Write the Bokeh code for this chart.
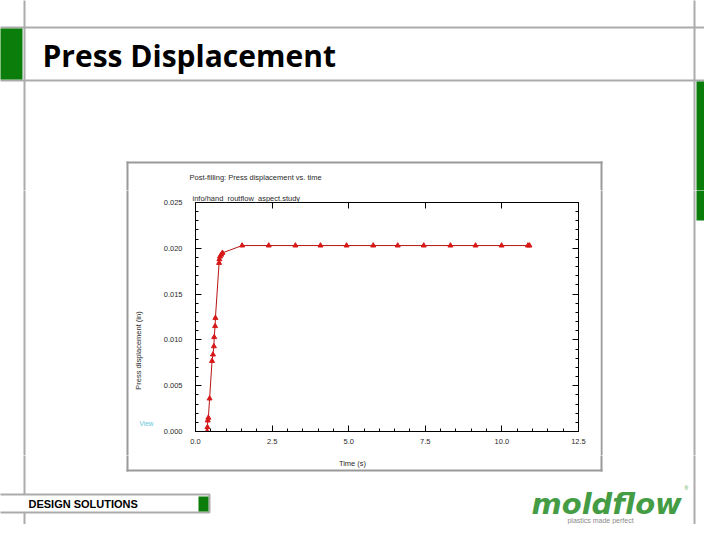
import numpy as np
from bokeh.plotting import figure
from bokeh.layouts import column, row
from bokeh.models import Range1d, LinearAxis, FixedTicker, NumeralTickFormatter, Title, ColumnDataSource
from bokeh.core.properties import value
from bokeh.embed import file_html
from bokeh.resources import INLINE

# ---------------- data ----------------
time_s = [0.0, 0.38, 0.39, 0.40, 0.42, 0.46, 0.54, 0.57, 0.60, 0.61, 0.64, 0.65,
          0.77, 0.78, 0.80, 0.84, 0.88, 1.52, 2.39, 3.26, 4.08, 4.93, 5.80,
          6.60, 7.45, 8.32, 9.14, 9.99, 10.85, 10.90]
displacement_in = [0.0, 0.0, 0.00047, 0.0012, 0.0015, 0.0036, 0.0077, 0.0084, 0.0093,
                   0.0103, 0.0115, 0.0124, 0.0184, 0.0188, 0.0191, 0.0193, 0.0195,
                   0.0203, 0.0203, 0.0203, 0.0203, 0.0203, 0.0203, 0.0203, 0.0203,
                   0.0203, 0.0203, 0.0203, 0.0203, 0.0203]
x_tick_labels = ["0.0", "2.5", "5.0", "7.5", "10.0", "12.5"]
y_tick_labels = ["0.000", "0.005", "0.010", "0.015", "0.020", "0.025"]

slide_title = "Press Displacement"
chart_title = "Post-filling: Press displacement vs. time"
chart_subtitle = "info/hand_routflow_aspect.study"
x_label = "Time (s)"
y_label = "Press displacement (in)"
view_text = "View"
footer_text = "DESIGN SOLUTIONS"
logo_text = "moldflow"
logo_tagline = "plastics made perfect"

GREEN = "#0b7d0b"
GRAY = "#ababab"
BOXGRAY = "#9a9a9a"
TXT = "#2a2a2a"
LFONT = "Liberation Sans"


def deco(width, height, x0, y0):
    f = figure(width=width, height=height, x_range=Range1d(x0, x0 + width),
               y_range=Range1d(y0 + height, y0), toolbar_location=None,
               output_backend="svg", min_border=0, x_axis_type=None,
               y_axis_type=None, title=None)
    f.frame_align = False
    f.outline_line_color = None
    f.background_fill_color = "white"
    f.border_fill_color = "white"
    f.xgrid.visible = False
    f.ygrid.visible = False
    return f


def vline(f, x, y0, y1, color=GRAY, w=2):
    f.segment(x0=[x], y0=[y0], x1=[x], y1=[y1], line_color=color, line_width=w)


def hline(f, y, x0, x1, color=GRAY, w=2):
    f.segment(x0=[x0], y0=[y], x1=[x1], y1=[y], line_color=color, line_width=w)


def box(f, l, r, t, b, color):
    f.quad(left=[l], right=[r], top=[t], bottom=[b], fill_color=color, line_color=None)


def small_text(f, x, y, txt, size="7.5px", color=TXT, align="left", angle=0.0):
    f.text(x=[x], y=[y], text=[txt], text_font=value(LFONT), text_font_size=size,
           text_color=color, text_align=align, text_baseline="middle", angle=angle)


# ---------------- header (y 0..190) ----------------
A = deco(704, 190, 0, 0)
vline(A, 24, -5, 195)
vline(A, 694, -5, 195)
hline(A, 27, -5, 720)
hline(A, 80, -5, 720)
box(A, -5, 22, 28, 79, GREEN)
box(A, 696, 718, 81, 195, GREEN)
box(A, 126, 602, 161, 163, BOXGRAY)
box(A, 126, 128, 161, 195, BOXGRAY)
box(A, 600, 602, 161, 195, BOXGRAY)
A.text(x=[42], y=[55], text=[slide_title], text_font=value("Open Sans"),
       text_font_style="bold", text_font_size="30px", text_color="black",
       text_baseline="middle", text_align="left")
small_text(A, 189, 177, chart_title)

# ---------------- middle left / right (y 190..455) ----------------
L = deco(155, 265, 0, 190)
vline(L, 24, 180, 465)
box(L, 126, 128, 180, 465, BOXGRAY)
small_text(L, 138, 350, y_label, align="center", angle=float(np.pi / 2))
small_text(L, 146, 423, view_text, size="6.5px", color="#5cc8d8", align="center")

R = deco(104, 265, 600, 190)
box(R, 600, 602, 180, 465, BOXGRAY)
vline(R, 694, 180, 465)
box(R, 696, 718, 180, 220, GREEN)

# ---------------- chart (x 155..600, y 190..455) ----------------
p = figure(width=445, height=265, x_range=Range1d(0, 12.5), y_range=Range1d(0, 0.025),
           toolbar_location=None, output_backend="svg", title=None,
           min_border_left=40, min_border_right=22, min_border_top=12, min_border_bottom=24)
p.frame_align = False
p.background_fill_color = "white"
p.border_fill_color = "white"
p.outline_line_color = "black"
p.outline_line_width = 1
p.xgrid.visible = False
p.ygrid.visible = False

x_ticks = [float(t) for t in x_tick_labels]
y_ticks = [float(t) for t in y_tick_labels]
x_minor = [float(v) for v in np.arange(0, 12.51, 0.5)]
y_minor = [float(v) for v in np.arange(0, 0.02501, 0.001)]


def style_axis(ax, ticks, minor, fmt, show_labels=True, show_minor=True):
    ax.ticker = FixedTicker(ticks=ticks, minor_ticks=minor if show_minor else [])
    ax.formatter = NumeralTickFormatter(format=fmt)
    ax.axis_line_color = "black"
    ax.major_tick_line_color = "black"
    ax.minor_tick_line_color = "black"
    ax.major_tick_in = 6
    ax.major_tick_out = 0
    ax.minor_tick_in = 3
    ax.minor_tick_out = 0
    ax.major_label_text_font = LFONT
    if show_labels:
        ax.major_label_text_font_size = "7.5px"
        ax.major_label_text_color = TXT
    else:
        ax.major_label_text_font_size = "1px"
        ax.major_label_text_color = None
        ax.major_label_standoff = 0


style_axis(p.xaxis[0], x_ticks, x_minor, "0.0")
p.xaxis[0].major_label_standoff = 7
style_axis(p.yaxis[0], y_ticks, y_minor, "0.000")
p.yaxis[0].major_label_standoff = 13

top_ax = LinearAxis()
style_axis(top_ax, x_ticks, x_minor, "0.0", show_labels=False, show_minor=False)
p.add_layout(top_ax, "above")
right_ax = LinearAxis()
style_axis(right_ax, y_ticks, y_minor, "0.000", show_labels=False)
p.add_layout(right_ax, "right")

p.add_layout(Title(text=chart_subtitle, align="left", offset=-3, standoff=0,
                   text_font=LFONT, text_font_size="7.5px", text_font_style="normal",
                   text_color=TXT), "above")

src_line = ColumnDataSource(dict(t=time_s, v=displacement_in))
src_pts = ColumnDataSource(dict(t=time_s[1:], v=displacement_in[1:]))
p.line("t", "v", source=src_line, line_color="#b81414", line_width=1)
p.scatter("t", "v", source=src_pts, marker="triangle", size=5,
          fill_color="#d81818", line_color="#d81818")

# ---------------- footer (y 455..524) ----------------
C = deco(704, 69, 0, 455)
box(C, 126, 128, 450, 471, BOXGRAY)
box(C, 600, 602, 450, 471, BOXGRAY)
box(C, 126, 602, 469, 471, BOXGRAY)
vline(C, 24, 450, 540)
vline(C, 694, 450, 540)
small_text(C, 352, 463, x_label, align="center")
C.quad(left=[-10], right=[209], top=[494], bottom=[512], fill_color="white",
       line_color=GRAY, line_width=2)
box(C, 198, 208, 496, 511, GREEN)
C.text(x=[28], y=[503], text=[footer_text], text_font=value(LFONT),
       text_font_style="bold", text_font_size="11px", text_color="black",
       text_baseline="middle")
C.text(x=[531], y=[503], text=[logo_text], text_font=value("DejaVu Sans"),
       text_font_style="bold italic", text_font_size="29px", text_color="#449c44",
       text_baseline="middle")
C.text(x=[600], y=[520], text=[logo_tagline], text_font=value(LFONT),
       text_font_size="7px", text_color="#8a8a8a", text_baseline="middle",
       text_align="center")
C.text(x=[684], y=[487], text=["®"], text_font=value(LFONT),
       text_font_size="5px", text_color="#449c44", text_baseline="middle")

layout = column(A, row(L, p, R), C)
open("out.html", "w").write(file_html(layout, INLINE))
